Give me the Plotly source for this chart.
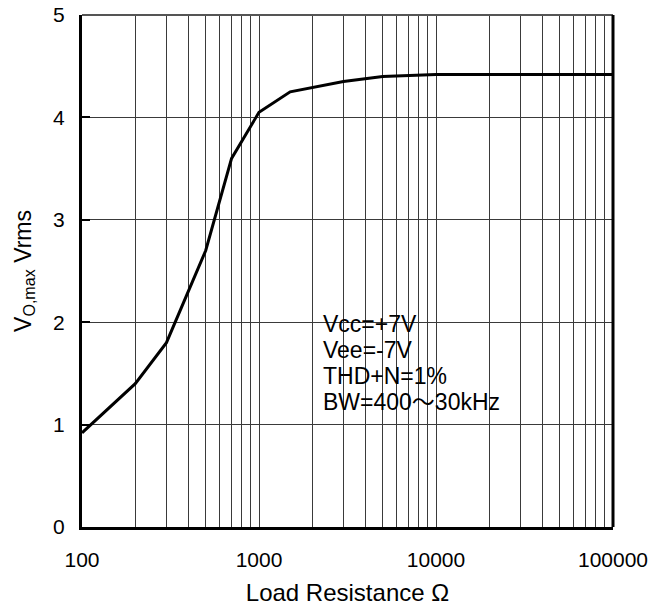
import plotly.graph_objects as go

# load resistance (ohm) vs max output voltage (Vrms)
load_ohm = [100, 200, 300, 500, 700, 1000, 1500, 2000, 3000, 5000, 10000, 20000, 50000, 100000]
vo_max = [0.92, 1.40, 1.80, 2.70, 3.60, 4.05, 4.25, 4.29, 4.35, 4.40, 4.42, 4.42, 4.42, 4.42]

x_grid = [m * 10 ** e for e in range(2, 5) for m in range(1, 10)] + [100000]
x_labels = ["100", "1000", "10000", "100000"]
y_ticks = [0, 1, 2, 3, 4, 5]
notes = ["Vcc=+7V", "Vee=-7V", "THD+N=1%", "BW=400〜30kHz"]

_FONT = dict(family="Liberation Sans, Arial, Noto Sans CJK JP, sans-serif", color="#000000")
_GRID = "#3a3a3a"

fig = go.Figure(go.Scatter(
    x=load_ohm, y=vo_max, mode="lines",
    line=dict(color="#000000", width=3),
    showlegend=False, hoverinfo="skip",
))

tick_text = [str(v) if str(v) in x_labels else "" for v in x_grid]
fig.update_xaxes(
    type="log", range=[2, 5], tickvals=x_grid, ticktext=tick_text,
    showgrid=True, gridcolor=_GRID, gridwidth=1, zeroline=False,
    showline=True, linecolor="#000000", linewidth=3,
    ticks="", ticklabelstandoff=12, tickfont=dict(size=21, **_FONT),
    title=dict(text="Load Resistance Ω", font=dict(size=24, **_FONT), standoff=14),
)
fig.update_yaxes(
    range=[0, 5], tickvals=y_ticks,
    showgrid=True, gridcolor=_GRID, gridwidth=1, zeroline=False,
    showline=True, linecolor="#000000", linewidth=3,
    ticks="inside", ticklen=8, tickwidth=2, tickcolor="#000000",
    ticklabelstandoff=10, tickfont=dict(size=21, **_FONT),
    title=dict(text="V<sub>O,max</sub> Vrms", font=dict(size=23, **_FONT), standoff=16),
)

# frame on top/right and white box behind the notes
fig.add_shape(type="line", xref="paper", yref="paper", x0=0, x1=1, y0=1, y1=1,
              line=dict(color="#555555", width=2))
fig.add_shape(type="line", xref="paper", yref="paper", x0=1, x1=1, y0=0, y1=1,
              line=dict(color="#000000", width=3))
fig.add_shape(type="rect", xref="paper", yref="paper", x0=0.418, x1=0.900, y0=0.178, y1=0.449,
              fillcolor="#ffffff", line=dict(width=0), layer="below")

for i, t in enumerate(notes):
    fig.add_annotation(text=t, xref="paper", yref="paper", x=0.450, y=0.397 - i * 0.0508,
                       xanchor="left", yanchor="middle", showarrow=False,
                       font=dict(size=23, **_FONT))

fig.update_layout(
    width=651, height=608, plot_bgcolor="#ffffff", paper_bgcolor="#ffffff",
    margin=dict(l=82, r=38, t=15, b=81, autoexpand=False),
    font=_FONT,
)
fig.write_html("out.html", config={"displayModeBar": False},
               post_script="document.body.style.margin='0px';")
